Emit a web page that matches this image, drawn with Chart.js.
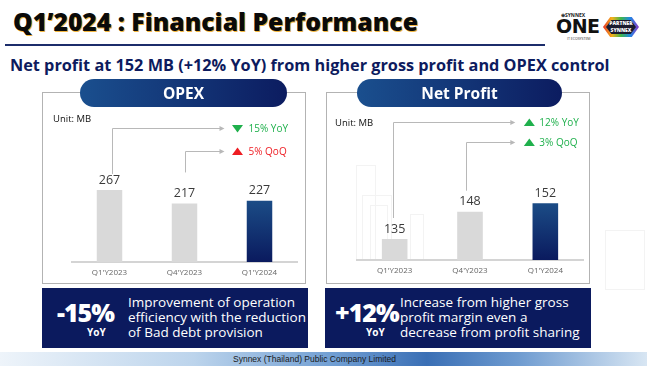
<!DOCTYPE html>
<html><head><meta charset="utf-8">
<script src="https://cdn.jsdelivr.net/npm/chart.js@4.4.1/dist/chart.umd.min.js"></script>
<style>
html,body{margin:0;padding:0;}
body{width:647px;height:366px;position:relative;overflow:hidden;background:#fff;font-family:"Open Sans",sans-serif;}
.abs{position:absolute;}
#title{left:13px;top:5px;font-weight:800;font-size:23px;color:#0a0a0a;white-space:nowrap;text-shadow:1px 1px 0 #f2b640;line-height:34px}
#rule{left:5px;top:44px;width:540px;height:2px;background:#1c2d6b}
#subtitle{left:10px;top:53px;font-weight:700;font-size:17px;color:#0d1b5e;white-space:nowrap;line-height:24px}
.panel{border:1.5px solid #b3b3b3;box-sizing:border-box;}
.pill{height:28px;border-radius:14px;background:linear-gradient(90deg,#1a4f8e,#0c1c60);color:#fff;font-weight:700;font-size:15.5px;line-height:28px;text-align:center;z-index:3}
.unit{font-size:9.5px;color:#111;z-index:3}
canvas{position:absolute;z-index:2}
.box{background:#0b1a5e;color:#fff;z-index:3}
.big{position:absolute;font-weight:800;font-size:25px;line-height:26px;top:11px;letter-spacing:-1px}
.yoy{position:absolute;font-weight:700;font-size:10px;line-height:12px;top:38px}
.desc{position:absolute;font-size:13.5px;line-height:15px;top:7px;white-space:nowrap}
#footer{left:0;top:352px;width:647px;height:14px;background:linear-gradient(90deg,#eef4fa 0%,#bcd4ec 30%,#6f9dd2 52%,#3a6fb5 66%,#6e9bd0 80%,#d8e6f3 100%)}
#footer span{position:absolute;left:233px;top:0;font-family:"Liberation Sans",Arial,sans-serif;font-size:8.5px;line-height:14px;color:#1a1a1a;white-space:nowrap}
#logo{left:553px;top:12px;width:90px;height:30px}
.sk{position:absolute;border:1px solid #f3f3f3;box-sizing:border-box;z-index:1}
</style></head>
<body>
<div id="title" class="abs">Q1’2024 : Financial Performance</div>
<div id="rule" class="abs"></div>
<div id="logo" class="abs">
  <div class="abs" style="left:8px;top:0;font-size:5px;font-weight:700;color:#222;">⊕SYNNEX</div>
  <div class="abs" style="left:3px;top:3px;font-size:19px;font-weight:800;color:#111;letter-spacing:-0.5px;font-family:'DejaVu Sans',sans-serif;">ONE</div>
  <div class="abs" style="left:14px;top:24px;font-size:3.5px;color:#333;">IT ECOSYSTEM</div>
  <div class="abs" style="left:50px;top:5px;width:36px;height:20px;clip-path:polygon(20% 0,80% 0,100% 50%,80% 100%,20% 100%,0 50%);background:linear-gradient(90deg,#e5332a,#f6b21a,#3fb54a,#1e88e5,#8e3bc4)"></div>
  <div class="abs" style="left:53px;top:8px;width:30px;height:14px;clip-path:polygon(18% 0,82% 0,100% 50%,82% 100%,18% 100%,0 50%);background:#1b1b2e;color:#fff;font-size:5px;font-weight:800;text-align:center;line-height:7px">PARTNER<br>SYNNEX</div>
</div>
<div id="subtitle" class="abs">Net profit at 152 MB (+12% YoY) from higher gross profit and OPEX control</div>

<!-- faint background sketches -->
<div class="sk" style="left:356px;top:165px;width:20px;height:95px"></div>
<div class="sk" style="left:362px;top:195px;width:30px;height:65px"></div>
<div class="sk" style="left:370px;top:205px;width:18px;height:55px"></div>
<div class="sk" style="left:410px;top:214px;width:14px;height:46px"></div>
<div class="sk" style="left:605px;top:230px;width:40px;height:60px"></div>

<div class="abs panel" style="left:42px;top:92px;width:264px;height:192px"></div>
<div class="abs pill" style="left:80px;top:79px;width:207px">OPEX</div>
<div class="abs unit" style="left:53px;top:112px">Unit: MB</div>
<canvas id="c1" width="264" height="192" style="left:42px;top:92px"></canvas>

<div class="abs panel" style="left:326px;top:92px;width:264px;height:192px"></div>
<div class="abs pill" style="left:357px;top:79px;width:205px">Net Profit</div>
<div class="abs unit" style="left:335px;top:116px">Unit: MB</div>
<canvas id="c2" width="264" height="192" style="left:326px;top:92px"></canvas>

<div class="abs box" style="left:42px;top:288px;width:266px;height:60px">
  <div class="big" style="left:15px">-15%</div>
  <div class="yoy" style="left:45px">YoY</div>
  <div class="desc" style="left:86px">Improvement of operation<br>efficiency with the reduction<br>of Bad debt provision</div>
</div>
<div class="abs box" style="left:325px;top:288px;width:266px;height:60px">
  <div class="big" style="left:10px">+12%</div>
  <div class="yoy" style="left:41px">YoY</div>
  <div class="desc" style="left:75px">Increase from higher gross<br>profit margin even a<br>decrease from profit sharing</div>
</div>
<div id="footer" class="abs"><span>Synnex (Thailand) Public Company Limited</span></div>

<script>
// ---- data ----
const categories = ["Q1'Y2023", "Q4'Y2023", "Q1'Y2024"];
const opexValues = [267, 217, 227];
const profitValues = [135, 148, 152];
const opexChangeLabels = ["15% YoY", "5% QoQ"];
const opexChangeDirs = ["down", "up"];
const profitChangeLabels = ["12% YoY", "3% QoQ"];
const profitChangeDirs = ["up", "up"];
const changeFrom = [0, 1]; // YoY from first bar, QoQ from second bar

// ---- text fitting ----
function fitWidth(id, target){
  const el = document.getElementById(id);
  let fs = parseFloat(getComputedStyle(el).fontSize);
  for (let k=0;k<4;k++){ const w = el.getBoundingClientRect().width; fs = fs*target/w; el.style.fontSize = fs+'px'; }
}
fitWidth('title', 405);
fitWidth('subtitle', 600);

const GREEN = '#1fb04c', RED = '#ee1d23';

const annot = {
  id: 'annot',
  afterDatasetsDraw(chart, args, o){
    const ctx = chart.ctx, meta = chart.getDatasetMeta(0), ca = chart.chartArea;
    const vals = chart.data.datasets[0].data;
    ctx.save();
    ctx.font = '400 12.5px "Open Sans"'; ctx.fillStyle = '#3a3a3a';
    ctx.textAlign = 'center'; ctx.textBaseline = 'middle';
    meta.data.forEach((bar,i)=> ctx.fillText(String(vals[i]), bar.x, bar.y - 10));
    const last = meta.data[meta.data.length-1];
    o.rows.forEach(r=>{
      const b = meta.data[r.from];
      const x = Math.round(b.x + r.dx) + 0.5, y0 = b.y - r.gap, y1 = Math.round(ca.top + r.top) + 0.5;
      const xe = last.x + o.endOff;
      ctx.strokeStyle = '#b8b8b8'; ctx.lineWidth = 1;
      ctx.beginPath(); ctx.moveTo(x, y0); ctx.lineTo(x, y1); ctx.lineTo(xe - 4, y1); ctx.stroke();
      ctx.fillStyle = '#b8b8b8';
      ctx.beginPath(); ctx.moveTo(xe, y1); ctx.lineTo(xe-5, y1-2.5); ctx.lineTo(xe-5, y1+2.5); ctx.closePath(); ctx.fill();
      const tx = last.x + o.triOff;
      ctx.fillStyle = r.color; ctx.beginPath();
      if (r.dir === 'up'){ ctx.moveTo(tx, y1-4); ctx.lineTo(tx+5.5, y1+3.5); ctx.lineTo(tx-5.5, y1+3.5); }
      else { ctx.moveTo(tx-5.5, y1-3.5); ctx.lineTo(tx+5.5, y1-3.5); ctx.lineTo(tx, y1+4); }
      ctx.closePath(); ctx.fill();
      ctx.font = '400 10px "Open Sans"'; ctx.textAlign = 'left';
      ctx.fillText(r.label, last.x + o.textOff, y1 + 0.5);
    });
    ctx.restore();
  }
};

function makeChart(id, values, cfg){
  return new Chart(document.getElementById(id), {
    type: 'bar',
    data: { labels: categories, datasets: [{
      data: values,
      borderWidth: 0,
      barPercentage: 1, categoryPercentage: 0.34,
      backgroundColor: (c)=>{
        if (c.dataIndex !== values.length-1) return '#d9d9d9';
        const ch = c.chart, ca = ch.chartArea;
        if (!ca) return '#123a78';
        const top = ch.scales.y.getPixelForValue(values[c.dataIndex]);
        const g = ch.ctx.createLinearGradient(0, top, 0, ca.bottom);
        g.addColorStop(0, '#1b4c86'); g.addColorStop(1, '#0a1a5e');
        return g;
      }
    }]},
    options: {
      responsive: false, animation: false,
      layout: { padding: { left: cfg.padL, right: cfg.padR, top: 0, bottom: 0 } },
      plugins: { legend: { display: false }, tooltip: { enabled: false }, annot: cfg.annot },
      scales: {
        y: { display: false, min: cfg.min, max: cfg.max },
        x: {
          grid: { display: false, drawTicks: false },
          border: { display: true, color: '#d4d4d4', width: 2 },
          ticks: { color: '#666', font: { family: 'Open Sans', size: 8 }, padding: 6 },
          afterFit: (s)=>{ s.height = cfg.axisH; }
        }
      }
    },
    plugins: [annot]
  });
}

makeChart('c1', opexValues, {
  padL: 30, padR: 9, axisH: 22, min: 0, max: 630,
  annot: { endOff: -35, triOff: -22, textOff: -11, rows: [
    { from: changeFrom[0], dx: 2, gap: 16, top: 36, label: opexChangeLabels[0], dir: opexChangeDirs[0], color: GREEN },
    { from: changeFrom[1], dx: 0, gap: 31, top: 59, label: opexChangeLabels[1], dir: opexChangeDirs[1], color: RED }
  ]}
});
makeChart('c2', profitValues, {
  padL: 31, padR: 7, axisH: 24, min: 125, max: 205,
  annot: { endOff: -30, triOff: -16, textOff: -6, rows: [
    { from: changeFrom[0], dx: -2, gap: 21, top: 30, label: profitChangeLabels[0], dir: profitChangeDirs[0], color: GREEN },
    { from: changeFrom[1], dx: -4, gap: 21, top: 50, label: profitChangeLabels[1], dir: profitChangeDirs[1], color: GREEN }
  ]}
});
</script>
</body></html>
